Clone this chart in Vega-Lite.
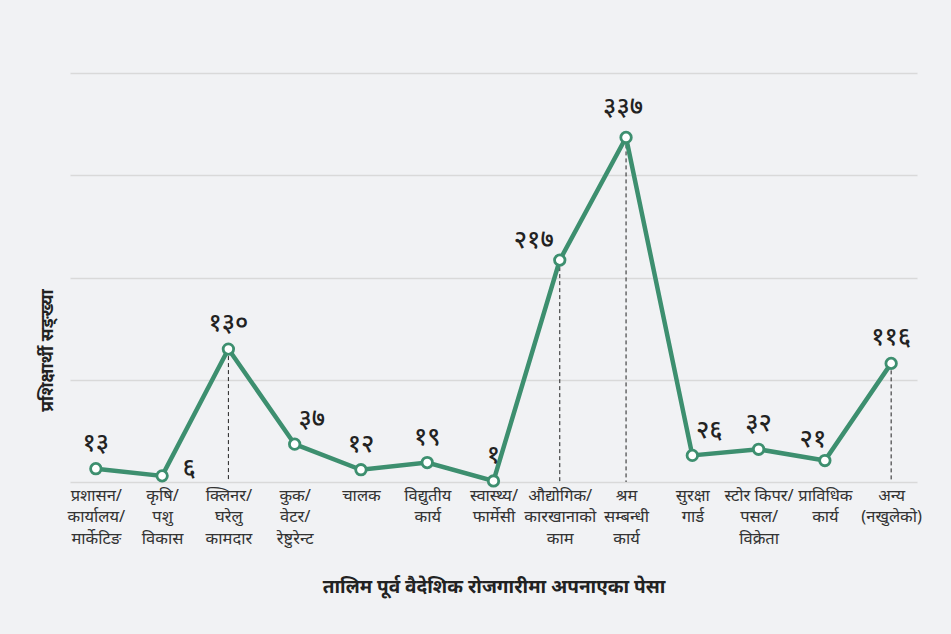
{
  "$schema": "https://vega.github.io/schema/vega-lite/v6.json",
  "width": 847,
  "height": 409,
  "autosize": {"type": "none"},
  "padding": {"left": 70, "top": 73, "right": 34, "bottom": 152},
  "background": "#f1f2f4",
  "config": {
    "view": {"stroke": null},
    "font": "Noto Sans",
    "text": {"font": "Noto Sans"}
  },
  "data": {
    "values": [
      {"pesa": "प्रशासन/|कार्यालय/|मार्केटिङ", "value": 13, "label": "१३"},
      {"pesa": "कृषि/|पशु|विकास", "value": 6, "label": "६"},
      {"pesa": "क्लिनर/|घरेलु|कामदार", "value": 130, "label": "१३०"},
      {"pesa": "कुक/|वेटर/|रेष्टुरेन्ट", "value": 37, "label": "३७"},
      {"pesa": "चालक", "value": 12, "label": "१२"},
      {"pesa": "विद्युतीय|कार्य", "value": 19, "label": "१९"},
      {"pesa": "स्वास्थ्य/|फार्मेसी", "value": 1, "label": "१"},
      {"pesa": "औद्योगिक/|कारखानाको|काम", "value": 217, "label": "२१७"},
      {"pesa": "श्रम|सम्बन्धी|कार्य", "value": 337, "label": "३३७"},
      {"pesa": "सुरक्षा|गार्ड", "value": 26, "label": "२६"},
      {"pesa": "स्टोर किपर/|पसल/|विक्रेता", "value": 32, "label": "३२"},
      {"pesa": "प्राविधिक|कार्य", "value": 21, "label": "२१"},
      {"pesa": "अन्य|(नखुलेको)", "value": 116, "label": "११६"}
    ]
  },
  "encoding": {
    "x": {
      "field": "pesa",
      "type": "nominal",
      "sort": null,
      "scale": {
        "type": "point",
        "padding": 0.39,
        "domain": ["प्रशासन/|कार्यालय/|मार्केटिङ", "कृषि/|पशु|विकास", "क्लिनर/|घरेलु|कामदार", "कुक/|वेटर/|रेष्टुरेन्ट", "चालक", "विद्युतीय|कार्य", "स्वास्थ्य/|फार्मेसी", "औद्योगिक/|कारखानाको|काम", "श्रम|सम्बन्धी|कार्य", "सुरक्षा|गार्ड", "स्टोर किपर/|पसल/|विक्रेता", "प्राविधिक|कार्य", "अन्य|(नखुलेको)"]
      },
      "axis": {
        "title": "तालिम पूर्व वैदेशिक रोजगारीमा अपनाएका पेसा",
        "titleFont": "Noto Sans",
        "titleFontSize": 19,
        "titleFontWeight": "bold",
        "titleColor": "#222222",
        "titleY": 95,
        "titleBaseline": "top",
        "labelExpr": "split(datum.label, '|')",
        "labelAngle": 0,
        "labelFont": "Noto Sans",
        "labelFontSize": 16.5,
        "labelColor": "#333333",
        "labelLineHeight": 21.5,
        "labelPadding": 5,
        "labelBaseline": "top",
        "ticks": false,
        "domain": false,
        "grid": false
      }
    },
    "y": {
      "field": "value",
      "type": "quantitative",
      "scale": {"domain": [0, 400], "nice": false},
      "axis": {
        "title": "प्रशिक्षार्थी सङ्ख्या",
        "titleFont": "Noto Sans",
        "titleFontSize": 17.5,
        "titleFontWeight": "bold",
        "titleColor": "#222222",
        "titleY": 277,
        "titlePadding": 14,
        "values": [0, 100, 200, 300, 400],
        "labels": false,
        "ticks": false,
        "domain": false,
        "grid": true,
        "gridColor": "#d9d9d9",
        "gridWidth": 1.5
      }
    }
  },
  "layer": [
    {
      "transform": [{"filter": {"field": "value", "oneOf": [130, 217, 337, 116]}}],
      "mark": {"type": "rule", "color": "#222222", "strokeWidth": 1, "strokeDash": [4, 3]},
      "encoding": {"y2": {"datum": 0}}
    },
    {
      "mark": {"type": "line", "color": "#3d8f6f", "strokeWidth": 4.5},
      "encoding": {}
    },
    {
      "mark": {"type": "point", "filled": true, "fill": "#ffffff", "stroke": "#3d8f6f", "strokeWidth": 2.8, "size": 110, "opacity": 1},
      "encoding": {}
    },
    {
      "transform": [{"filter": {"field": "value", "oneOf": [13, 130, 12, 19, 1, 32, 116]}}],
      "mark": {"type": "text", "fontSize": 25, "fontWeight": 500, "color": "#222222", "dy": -26, "baseline": "middle", "font": "Noto Sans"},
      "encoding": {"text": {"field": "label"}}
    },
    {
      "transform": [{"filter": {"field": "value", "oneOf": [337]}}],
      "mark": {"type": "text", "fontSize": 25, "fontWeight": 500, "color": "#222222", "dy": -30, "dx": -3, "baseline": "middle", "font": "Noto Sans"},
      "encoding": {"text": {"field": "label"}}
    },
    {
      "transform": [{"filter": {"field": "value", "oneOf": [6]}}],
      "mark": {"type": "text", "fontSize": 25, "fontWeight": 500, "color": "#222222", "dy": -8, "dx": 27, "baseline": "middle", "font": "Noto Sans"},
      "encoding": {"text": {"field": "label"}}
    },
    {
      "transform": [{"filter": {"field": "value", "oneOf": [37, 26]}}],
      "mark": {"type": "text", "fontSize": 25, "fontWeight": 500, "color": "#222222", "dy": -25, "dx": 17, "baseline": "middle", "font": "Noto Sans"},
      "encoding": {"text": {"field": "label"}}
    },
    {
      "transform": [{"filter": {"field": "value", "oneOf": [217]}}],
      "mark": {"type": "text", "fontSize": 25, "fontWeight": 500, "color": "#222222", "dy": -20, "dx": -26, "baseline": "middle", "font": "Noto Sans"},
      "encoding": {"text": {"field": "label"}}
    },
    {
      "transform": [{"filter": {"field": "value", "oneOf": [21]}}],
      "mark": {"type": "text", "fontSize": 25, "fontWeight": 500, "color": "#222222", "dy": -22, "dx": -12, "baseline": "middle", "font": "Noto Sans"},
      "encoding": {"text": {"field": "label"}}
    }
  ]
}
